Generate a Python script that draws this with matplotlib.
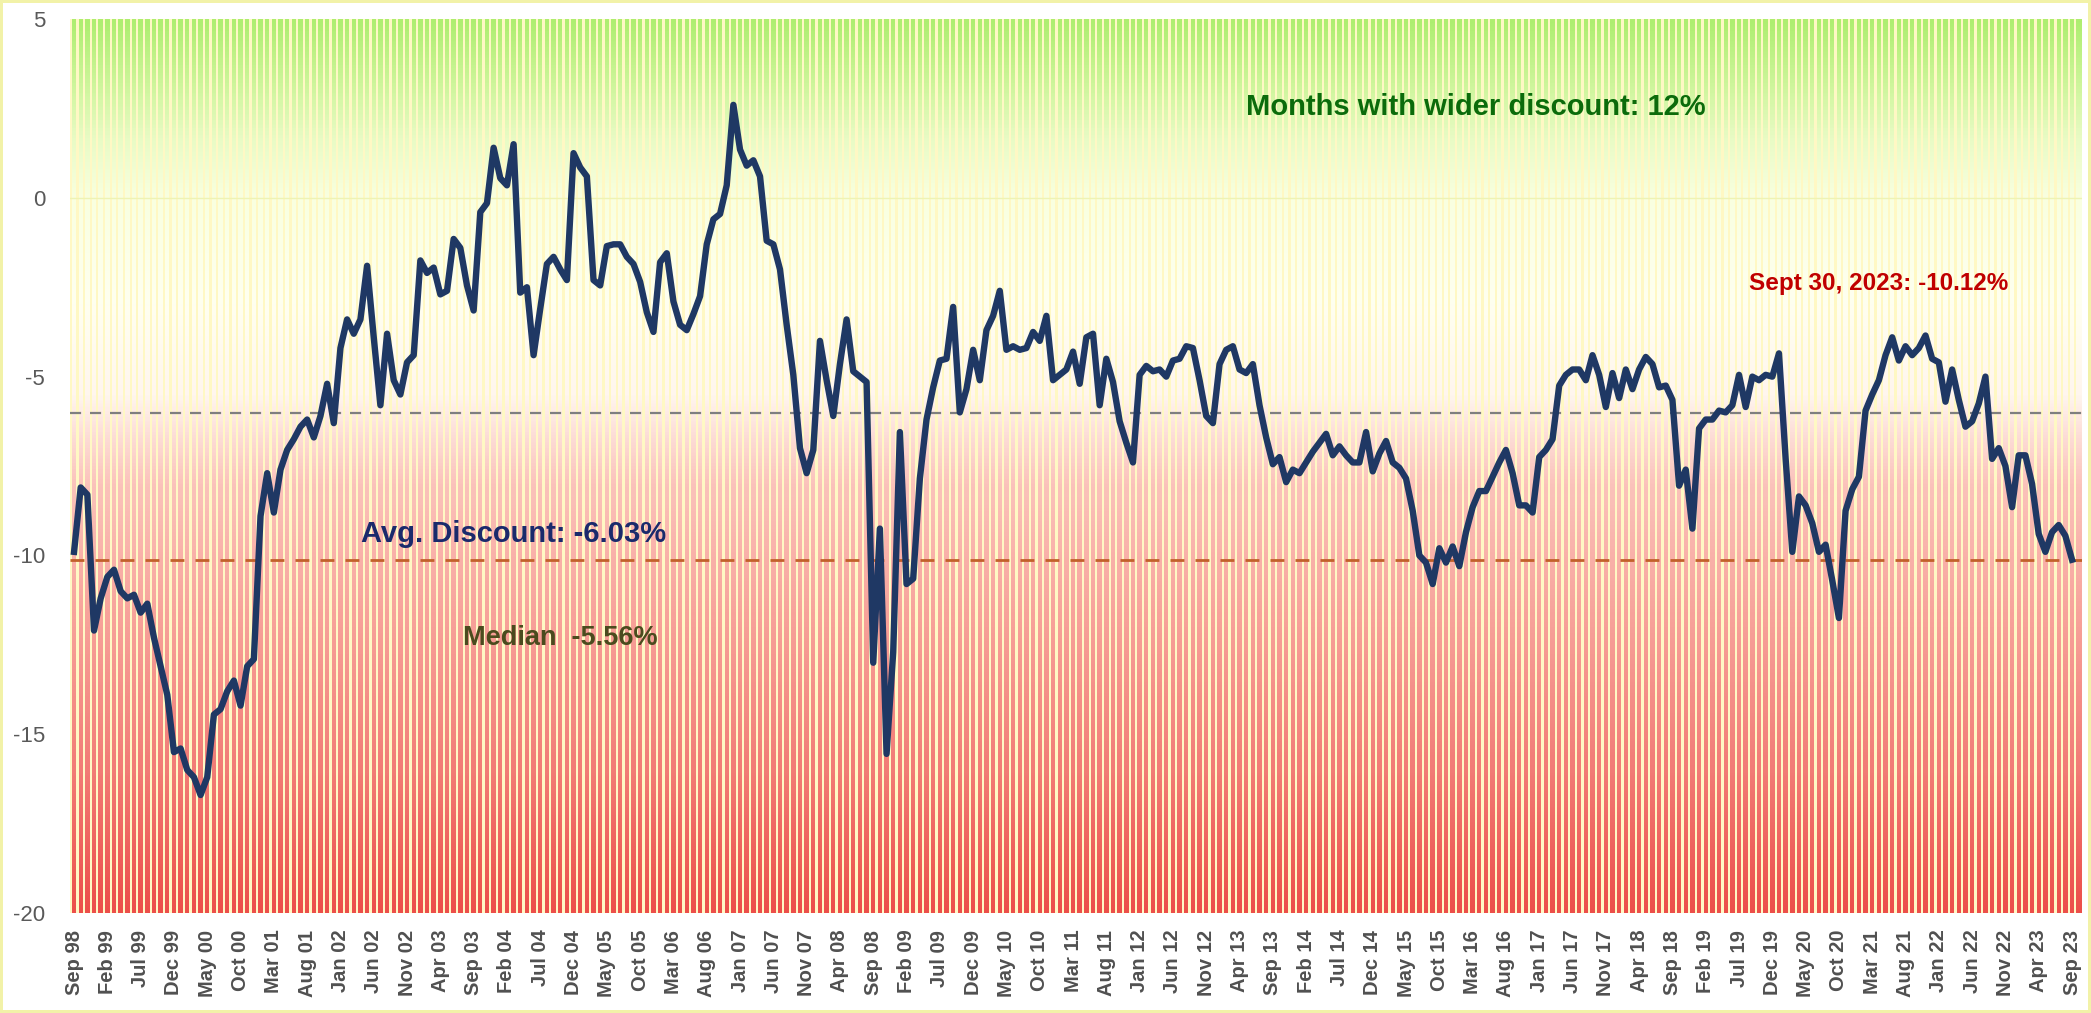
import matplotlib.pyplot as plt
import numpy as np
import pandas as pd
from matplotlib.colors import LinearSegmentedColormap

# Monthly discount (%), Sep 1998 .. Sep 2023
discount = [
    -9.9, -8.1, -8.3, -12.1, -11.2, -10.6, -10.4, -11.0, -11.2, -11.1,
    -11.6, -11.35, -12.3, -13.1, -13.9, -15.5, -15.4, -16.0, -16.2, -16.7,
    -16.2, -14.45, -14.3, -13.8, -13.5, -14.2, -13.1, -12.9, -8.9, -7.7,
    -8.8, -7.6, -7.05, -6.75, -6.4, -6.2, -6.7, -6.1, -5.2, -6.3,
    -4.2, -3.4, -3.8, -3.4, -1.9, -3.9, -5.8, -3.8, -5.1, -5.5,
    -4.6, -4.4, -1.75, -2.1, -1.95, -2.7, -2.6, -1.15, -1.4, -2.45,
    -3.15, -0.4, -0.15, 1.4, 0.55, 0.35, 1.5, -2.65, -2.5, -4.4,
    -3.1, -1.85, -1.65, -2.0, -2.3, 1.25, 0.85, 0.6, -2.3, -2.45,
    -1.35, -1.3, -1.3, -1.65, -1.85, -2.35, -3.2, -3.75, -1.8, -1.55,
    -2.9, -3.55, -3.7, -3.25, -2.75, -1.3, -0.6, -0.45, 0.35, 2.6,
    1.35, 0.9, 1.05, 0.6, -1.2, -1.3, -2.0, -3.55, -4.95, -7.0,
    -7.7, -7.05, -4.0, -5.1, -6.1, -4.65, -3.4, -4.85, -5.0, -5.15,
    -13.0, -9.25, -15.55, -12.7, -6.55, -10.8, -10.65, -7.85, -6.2, -5.3,
    -4.55, -4.5, -3.05, -6.0, -5.35, -4.25, -5.1, -3.7, -3.3, -2.6,
    -4.25, -4.15, -4.25, -4.2, -3.75, -4.0, -3.3, -5.1, -4.95, -4.8,
    -4.3, -5.2, -3.9, -3.8, -5.8, -4.5, -5.15, -6.25, -6.85, -7.4,
    -4.95, -4.7, -4.85, -4.8, -5.0, -4.55, -4.5, -4.15, -4.2, -5.1,
    -6.1, -6.3, -4.65, -4.25, -4.15, -4.8, -4.9, -4.65, -5.8, -6.7,
    -7.45, -7.25, -7.95, -7.6, -7.7, -7.4, -7.1, -6.85, -6.6, -7.2,
    -6.95, -7.2, -7.4, -7.4, -6.55, -7.65, -7.15, -6.8, -7.4, -7.55,
    -7.85, -8.75, -10.0, -10.2, -10.8, -9.8, -10.2, -9.75, -10.3, -9.35,
    -8.65, -8.2, -8.2, -7.8, -7.4, -7.05, -7.7, -8.6, -8.6, -8.8,
    -7.25, -7.05, -6.75, -5.25, -4.95, -4.8, -4.8, -5.1, -4.4, -4.95,
    -5.85, -4.9, -5.6, -4.8, -5.35, -4.8, -4.45, -4.65, -5.3, -5.25,
    -5.65, -8.05, -7.6, -9.25, -6.45, -6.2, -6.2, -5.95, -6.0, -5.8,
    -4.95, -5.85, -5.0, -5.1, -4.95, -5.0, -4.35, -7.3, -9.9, -8.35,
    -8.6, -9.1, -9.9, -9.7, -10.7, -11.75, -8.75, -8.15, -7.8, -5.95,
    -5.5, -5.1, -4.4, -3.9, -4.55, -4.15, -4.4, -4.2, -3.85, -4.5,
    -4.6, -5.7, -4.8, -5.65, -6.4, -6.25, -5.75, -5.0, -7.3, -7.0,
    -7.5, -8.65, -7.2, -7.2, -8.0, -9.4, -9.9, -9.35, -9.15, -9.45,
    -10.12,
]
months = pd.period_range("1998-09", "2023-09", freq="M")
tick_every = 5

avg_discount = -6.03
median_discount = -5.56
latest_discount = -10.12
wider_share = 12

y_ticks = [-20, -15, -10, -5, 0, 5]

# background gradient, bottom (-20) to top (5)
bg_cmap = LinearSegmentedColormap.from_list(
    "bg",
    [
        (0.00, "#ec4f4a"),
        (0.16, "#f27c76"),
        (0.32, "#f7a098"),
        (0.48, "#fbc3bb"),
        (0.54, "#fde0da"),
        (0.58, "#fff6ee"),
        (0.68, "#fffff0"),
        (0.80, "#f9ffe0"),
        (0.87, "#e8fbc4"),
        (0.93, "#cdf59a"),
        (1.00, "#aeee70"),
    ],
)

x = np.arange(len(discount))
x_lo, x_hi = -0.6, len(discount) + 0.5
y_lo, y_hi = y_ticks[0], y_ticks[-1]

fig = plt.figure(figsize=(20.91, 10.13), dpi=100)
fig.patch.set_facecolor("white")
fig.patch.set_edgecolor("#f2f2a8")
fig.patch.set_linewidth(3)
ax = fig.add_axes([0.0335, 0.0987, 0.9622, 0.8825])

grad = np.linspace(y_hi, y_lo, 600).reshape(-1, 1)
ax.imshow(
    grad,
    cmap=bg_cmap,
    vmin=y_lo,
    vmax=y_hi,
    extent=[x_lo, x_hi, y_lo, y_hi],
    aspect="auto",
    origin="upper",
    zorder=0,
)

# cream gaps between the monthly columns
gaps = np.arange(len(discount) + 1) - 0.5
ax.bar(gaps, y_hi - y_lo, bottom=y_lo, width=0.34, color="#fff8c4",
       linewidth=0, zorder=1)

ax.axhline(0, color="#eef3b4", lw=1, zorder=2)
ax.axhline(avg_discount, color="#7f7f7f", lw=1.6, dashes=(5, 4), zorder=3)
ax.axhline(latest_discount, color="#c2612a", lw=2.0, dashes=(5, 4), zorder=3)

ax.plot(x, discount, color="#1f3864", lw=4.6, zorder=5)

bold = dict(family="Liberation Sans", fontweight="bold")
ax.text(210.5, 2.55, f"Months with wider discount: {wider_share}%",
        color="#0b6b0b", fontsize=21, ha="center", va="center", **bold)
ax.text(271, -2.4, f"Sept 30, 2023: {latest_discount:.2f}%",
        color="#c00000", fontsize=17.5, ha="center", va="center", **bold)
ax.text(66, -9.4, f"Avg. Discount: {avg_discount:.2f}%",
        color="#1a2a6c", fontsize=21, ha="center", va="center", **bold)
ax.text(73, -12.3, f"Median  {median_discount:.2f}%",
        color="#4b4b1e", fontsize=19.5, ha="center", va="center", **bold)

ax.set_xlim(x_lo, x_hi)
ax.set_ylim(y_lo, y_hi)
ax.set_yticks(y_ticks)
ax.set_yticklabels([str(t) for t in y_ticks], fontsize=16, color="#595959",
                   family="Liberation Sans")
tick_pos = x[::tick_every]
ax.set_xticks(tick_pos)
ax.set_xticklabels([m.strftime("%b %y") for m in months[::tick_every]],
                   rotation=90, fontsize=14.5, color="#505050",
                   family="Liberation Sans", fontweight="bold")
ax.tick_params(axis="x", length=0, pad=12)
ax.tick_params(axis="y", length=0, pad=18)
for s in ax.spines.values():
    s.set_visible(False)

fig.savefig("out.png", dpi=100, facecolor=fig.get_facecolor(),
            edgecolor=fig.get_edgecolor())
